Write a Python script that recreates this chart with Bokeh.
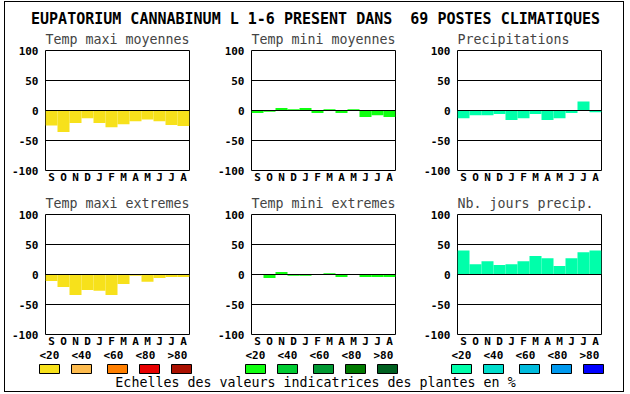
from bokeh.plotting import figure
from bokeh.layouts import column, row
from bokeh.models import Range1d, FixedTicker, ColumnDataSource
from bokeh.embed import file_html
from bokeh.resources import INLINE
from bokeh.core.properties import value

# ---------------- data ----------------
main_title = "EUPATORIUM CANNABINUM L 1-6 PRESENT DANS \u00a069 POSTES CLIMATIQUES"
months = ["S", "O", "N", "D", "J", "F", "M", "A", "M", "J", "J", "A"]
panel_titles = ["Temp maxi moyennes", "Temp mini moyennes", "Precipitations",
                "Temp maxi extremes", "Temp mini extremes", "Nb. jours precip."]
temp_maxi_moy = [-25, -36, -21, -13, -21, -28, -23, -18, -15, -18, -24, -26]
temp_mini_moy = [-4, -2, 4, 2, 4, -4, 2, -4, 2, -11, -8, -11]
precipitations = [-13, -8, -8, -6, -16, -13, -6, -16, -13, -4, 15, -3]
temp_maxi_ext = [-11, -21, -34, -26, -27, -34, -16, -2, -12, -6, -4, -4]
temp_mini_ext = [0, -6, 4, -2, -2, 0, 2, -4, 0, -4, -4, -4]
nb_jours_precip = [40, 17, 22, 16, 17, 22, 31, 27, 14, 27, 37, 40]
y_ticks = [-100, -50, 0, 50, 100]
grid_values = [-50, 0, 50]
legend_labels = ["<20", "<40", "<60", "<80", ">80"]
legend_yellow = ["#F7E11B", "#FDBB4E", "#FF7F00", "#E80000", "#AA1000"]
legend_green = ["#10FF10", "#00CC33", "#009933", "#007A00", "#006020"]
legend_blue = ["#00FFAA", "#00DDCC", "#00BBDD", "#0099EE", "#0000FF"]
caption = "Echelles des valeurs indicatrices des plantes en %"

MONO = "DejaVu Sans Mono"
COL_W = 206

series = [temp_maxi_moy, temp_mini_moy, precipitations,
          temp_maxi_ext, temp_mini_ext, nb_jours_precip]
colors = [legend_yellow[0], legend_green[0], legend_blue[0]] * 2


def panel(title, vals, color, height, bottom_border):
    p = figure(width=COL_W, height=height, output_backend="svg", toolbar_location=None,
               x_range=Range1d(-0.5, len(vals) - 0.5), y_range=Range1d(-100, 100),
               min_border_left=40, min_border_right=22, min_border_top=24,
               min_border_bottom=bottom_border, title=title)
    p.title.align = "left"
    p.title.text_font = MONO
    p.title.text_font_style = "normal"
    p.title.text_font_size = "13.3px"
    p.title.standoff = 7
    p.title.offset = 0
    src = ColumnDataSource(dict(x=list(range(len(vals))), top=vals))
    p.vbar(x="x", top="top", bottom=0, width=1, source=src,
           fill_color=color, line_color=None)
    p.outline_line_color = "black"
    p.outline_line_width = 1
    p.outline_line_alpha = 1
    p.xgrid.visible = False
    p.ygrid.ticker = FixedTicker(ticks=grid_values)
    p.ygrid.grid_line_color = "black"
    p.ygrid.grid_line_width = 1
    p.ygrid.level = "overlay"
    for ax in (p.xaxis[0], p.yaxis[0]):
        ax.axis_line_color = None
        ax.major_tick_line_color = None
        ax.minor_tick_line_color = None
        ax.major_tick_in = 0
        ax.major_tick_out = 0
        ax.minor_tick_out = 0
        ax.major_label_text_font = MONO
        ax.major_label_text_font_style = "bold"
        ax.major_label_text_font_size = "11px"
        ax.major_label_text_color = "black"
    p.yaxis.ticker = FixedTicker(ticks=y_ticks)
    p.yaxis.major_label_overrides = {v: str(v) for v in y_ticks}
    p.yaxis.major_label_standoff = 7
    p.xaxis.ticker = FixedTicker(ticks=list(range(len(months))))
    p.xaxis.major_label_overrides = {i: m for i, m in enumerate(months)}
    p.xaxis.major_label_standoff = 0
    return p


figs = [panel(t, v, c, 164 if i < 3 else 160, 20 if i < 3 else 16)
        for i, (t, v, c) in enumerate(zip(panel_titles, series, colors))]

TOTAL_W = COL_W * 3

# title strip
T_H = 24
top = figure(width=TOTAL_W, height=T_H, output_backend="svg", toolbar_location=None,
             x_range=Range1d(0, TOTAL_W), y_range=Range1d(T_H, 0),
             x_axis_type=None, y_axis_type=None, min_border=0)
top.outline_line_color = None
top.grid.visible = False
top.text(x=[TOTAL_W / 2 + 1], y=[16], text=[main_title], text_align="center",
         text_baseline="middle", text_font=value(MONO), text_font_style="bold",
         text_font_size="15px", text_color="black")

# legend strip
L_H = 41
leg = figure(width=TOTAL_W, height=L_H, output_backend="svg", toolbar_location=None,
             x_range=Range1d(0, TOTAL_W), y_range=Range1d(L_H, 0),
             x_axis_type=None, y_axis_type=None, min_border=0)
leg.outline_line_color = None
leg.grid.visible = False
label_x, label_t = [], []
box_l, box_r, box_c = [], [], []
box_offsets = [34, 66, 102, 134, 166]
for ci, pal in enumerate([legend_yellow, legend_green, legend_blue]):
    for i, (lab, colr) in enumerate(zip(legend_labels, pal)):
        label_x.append(ci * COL_W + 34 + 32 * i)
        label_t.append(lab)
        box_l.append(ci * COL_W + box_offsets[i])
        box_r.append(ci * COL_W + box_offsets[i] + 20)
        box_c.append(colr)
leg.text(x=label_x, y=[5] * len(label_x), text=label_t, text_align="left",
         text_baseline="middle", text_font=value(MONO), text_font_style="bold",
         text_font_size="11px", text_color="black")
leg.quad(left=box_l, right=box_r, top=[14] * len(box_l), bottom=[23] * len(box_l),
         fill_color=box_c, line_color="black", line_width=1)
leg.text(x=[310], y=[32], text=[caption], text_align="center",
         text_baseline="middle", text_font=value(MONO), text_font_style="normal",
         text_font_size="13.3px", text_color="black")

layout = column(top, row(*figs[:3]), row(*figs[3:]), leg,
                styles={"border": "1px solid black"}, margin=(1, 0, 0, 4))

open("out.html", "w").write(file_html(layout, INLINE))
